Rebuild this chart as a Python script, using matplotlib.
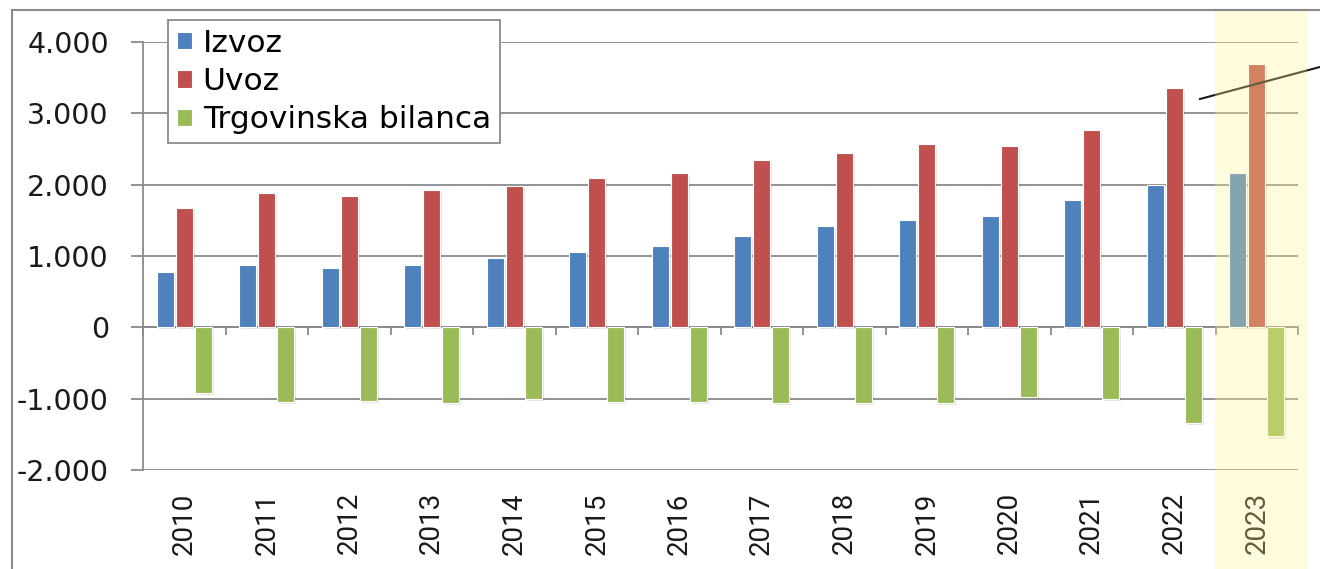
import numpy as np
import matplotlib
matplotlib.use("Agg")
import matplotlib.pyplot as plt
from matplotlib.patches import Rectangle
from matplotlib.lines import Line2D
from matplotlib.ticker import FuncFormatter
import matplotlib.patheffects as pe

years = ["2010", "2011", "2012", "2013", "2014", "2015", "2016",
         "2017", "2018", "2019", "2020", "2021", "2022", "2023"]
izvoz = [770, 880, 830, 880, 970, 1050, 1140, 1280, 1420, 1500, 1560, 1780, 2000, 2170]
uvoz = [1670, 1890, 1840, 1920, 1980, 2090, 2170, 2340, 2450, 2570, 2540, 2760, 3350, 3690]
bilanca = [-920, -1040, -1030, -1060, -1010, -1050, -1050, -1060, -1060, -1060, -980, -1010, -1340, -1530]
series_names = ["Izvoz", "Uvoz", "Trgovinska bilanca"]
series_colors = ["#4F81BD", "#C0504D", "#9BBB59"]
yticks = [-2000, -1000, 0, 1000, 2000, 3000, 4000]

W, H = 1320, 569
fig = plt.figure(figsize=(W / 100, H / 100), dpi=100)
fig.patch.set_facecolor("white")

ax_left, ax_right = 143 / W, 1298 / W
ax_top, ax_bot = 1 - 42 / H, 1 - 470 / H
ax = fig.add_axes([ax_left, ax_bot, ax_right - ax_left, ax_top - ax_bot])

x = np.arange(len(years))
bw = 0.207
off = 0.228
shadow = [pe.SimplePatchShadow(offset=(1.5, -1.5), shadow_rgbFace="k", alpha=0.1), pe.Normal()]
bars = []
for i, (vals, col, name) in enumerate(zip([izvoz, uvoz, bilanca], series_colors, series_names)):
    b = ax.bar(x + (i - 1) * off, vals, width=bw, color=col, edgecolor="white",
               linewidth=0.8, label=name, zorder=3)
    for p in b:
        p.set_path_effects(shadow)
    bars.append(b)

ax.set_xlim(-0.5, len(years) - 0.5)
ax.set_ylim(yticks[0], yticks[-1])
ax.set_yticks(yticks)
ax.yaxis.set_major_formatter(FuncFormatter(lambda v, p: f"{v:,.0f}".replace(",", ".")))
ax.grid(axis="y", color="#8a8a8a", linewidth=1.3, zorder=1)
ax.set_axisbelow(True)
for s in ["top", "right", "bottom"]:
    ax.spines[s].set_visible(False)
ax.spines["left"].set_color("#8a8a8a")
ax.spines["left"].set_linewidth(1.3)
ax.tick_params(axis="y", direction="out", length=8.6, width=1.3, color="#8a8a8a",
               pad=16, labelsize=20.5, labelcolor="#1a1a1a")
for t in ax.get_yticklabels():
    t.set_fontfamily("DejaVu Sans")

ax.set_xticks(x)
ax.set_xticklabels(years, rotation=90, fontsize=20, color="#1a1a1a",
                   family=["Roboto", "DejaVu Sans"])
ax.tick_params(axis="x", length=0, pad=16)

# zero-line axis with boundary ticks
zero_loc = (0 - yticks[0]) / (yticks[-1] - yticks[0])
sec = ax.secondary_xaxis(zero_loc)
sec.set_xticks(np.arange(len(years) + 1) - 0.5)
sec.set_xticklabels([""] * (len(years) + 1))
sec.tick_params(direction="out", length=5.5, width=1.3, color="#8a8a8a")
sec.spines["bottom"].set_color("#8a8a8a")
sec.spines["bottom"].set_linewidth(1.3)

leg = fig.legend(handles=bars, labels=series_names, loc="upper left",
                 bbox_to_anchor=(168 / W, 1 - 20 / H), bbox_transform=fig.transFigure,
                 fancybox=False, framealpha=1, edgecolor="#8a8a8a",
                 prop={"family": "DejaVu Sans", "size": 22.5},
                 handlelength=0.48, handleheight=0.48, handletextpad=0.35,
                 labelspacing=0.3, borderpad=0.28, borderaxespad=0)
leg.get_frame().set_linewidth(1.3)
for h in leg.legend_handles:
    h.set_path_effects([])

# outer chart frame
fig.add_artist(Rectangle((12 / W, -0.2), 1.5, (1 - 10 / H) + 0.2, transform=fig.transFigure,
                         fill=False, edgecolor="#8a8a8a", linewidth=1.5, zorder=1))

# leader line to an off-image callout
fig.add_artist(Line2D([1200 / W, 1330 / W], [1 - 99 / H, 1 - 64.3 / H], transform=fig.transFigure,
                      color="#1a1a1a", linewidth=1.5, zorder=5))

# highlight band for 2023 (semi-transparent overlay)
fig.add_artist(Rectangle((1215 / W, -0.05), (1307 - 1215) / W, (1 - 11 / H) + 0.05,
                         transform=fig.transFigure, facecolor="#FFF891", alpha=0.3,
                         edgecolor="none", zorder=10))

fig.savefig("out.png", dpi=100)
